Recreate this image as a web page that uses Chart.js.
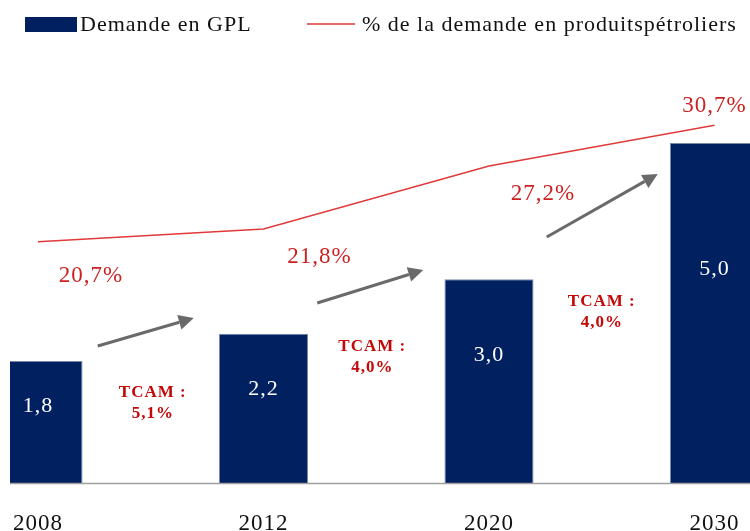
<!DOCTYPE html>
<html>
<head>
<meta charset="utf-8">
<script src="https://cdn.jsdelivr.net/npm/chart.js@4.4.1/dist/chart.umd.min.js"></script>
<style>
  html, body { margin: 0; padding: 0; background: #fff; }
  #wrap { width: 750px; height: 531px; }
</style>
</head>
<body>
<div id="wrap"><canvas id="gplChart" width="750" height="531"></canvas></div>
<script>
// data
const years = ['2008', '2012', '2020', '2030'];
const demandeGPL = [1.8, 2.2, 3.0, 5.0];
const partProduitsPetroliers = [20.7, 21.8, 27.2, 30.7];
const tcamValues = ['5,1%', '4,0%', '4,0%'];

const SERIF = "'Liberation Serif', 'Times New Roman', serif";
const NAVY = '#002060';
const RED_LINE = '#e03a3a';
const RED_TEXT = '#cc2222';
const RED_TCAM = '#c40808';
const ARROW_GREY = '#6a6a6a';

function frNum(v, d) {
    return v.toFixed(d).replace('.', ',');
}

// letter spacing like the original rendering
const spacingPlugin = {
    id: 'spacing',
    beforeUpdate(chart) { chart.ctx.letterSpacing = '1px'; },
    beforeDraw(chart) { chart.ctx.letterSpacing = '1px'; }
};

function drawArrow(ctx, x1, y1, x2, y2) {
    const ang = Math.atan2(y2 - y1, x2 - x1);
    const head = 15, half = 7.5;
    const bx = x2 - head * Math.cos(ang);
    const by = y2 - head * Math.sin(ang);
    ctx.strokeStyle = ARROW_GREY;
    ctx.fillStyle = ARROW_GREY;
    ctx.lineWidth = 3;
    ctx.beginPath();
    ctx.moveTo(x1, y1);
    ctx.lineTo(bx, by);
    ctx.stroke();
    ctx.beginPath();
    ctx.moveTo(x2, y2);
    ctx.lineTo(bx + half * Math.sin(ang), by - half * Math.cos(ang));
    ctx.lineTo(bx - half * Math.sin(ang), by + half * Math.cos(ang));
    ctx.closePath();
    ctx.fill();
}

const annotationsPlugin = {
    id: 'annotations',
    afterDatasetsDraw(chart) {
        const ctx = chart.ctx;
        const yScale = chart.scales.y;
        const bars = chart.getDatasetMeta(0).data;
        const points = chart.getDatasetMeta(1).data;

        ctx.save();
        ctx.textAlign = 'center';
        ctx.textBaseline = 'middle';

        // values inside the bars
        ctx.fillStyle = '#ffffff';
        ctx.font = '22px ' + SERIF;
        bars.forEach((bar, i) => {
            const y = yScale.getPixelForValue(demandeGPL[i] * 0.63);
            ctx.fillText(frNum(demandeGPL[i], 1), bar.x, y);
        });

        // percentage labels near the red line
        const offsets = [[53, 34], [56, 28], [54, 28], [0, -19]];
        ctx.fillStyle = RED_TEXT;
        ctx.font = '23px ' + SERIF;
        points.forEach((pt, i) => {
            ctx.fillText(frNum(partProduitsPetroliers[i], 1) + '%', pt.x + offsets[i][0], pt.y + offsets[i][1]);
        });

        // growth arrows between the bars
        const arrows = [[-53, 346, 43, 318], [-59, 303, 47, 270], [-55, 237, 56, 174]];
        arrows.forEach((a, i) => {
            const mid = (bars[i].x + bars[i + 1].x) / 2;
            drawArrow(ctx, mid + a[0], a[1], mid + a[2], a[3]);
        });

        // TCAM labels
        const tcamPos = [[2, 393], [-4, 347], [0, 302]];
        ctx.fillStyle = RED_TCAM;
        ctx.font = 'bold 17px ' + SERIF;
        tcamValues.forEach((t, i) => {
            const mid = (bars[i].x + bars[i + 1].x) / 2 + tcamPos[i][0];
            ctx.fillText('TCAM :', mid, tcamPos[i][1]);
            ctx.fillText(t, mid, tcamPos[i][1] + 21);
        });
        ctx.restore();
    },
    afterDraw(chart) {
        const ctx = chart.ctx;
        const base = chart.scales.y.getPixelForValue(0);
        ctx.save();
        // baseline
        ctx.strokeStyle = '#a0a0a0';
        ctx.lineWidth = 1.5;
        ctx.beginPath();
        ctx.moveTo(10, base);
        ctx.lineTo(chart.width, base);
        ctx.stroke();

        // legend
        const ds = chart.data.datasets;
        ctx.font = '22px ' + SERIF;
        ctx.textBaseline = 'middle';
        ctx.textAlign = 'left';
        ctx.fillStyle = ds[0].backgroundColor;
        ctx.fillRect(25, 17, 52, 15);
        ctx.fillStyle = '#111111';
        ctx.fillText(ds[0].label, 80, 25);
        ctx.strokeStyle = ds[1].borderColor;
        ctx.lineWidth = 1.5;
        ctx.beginPath();
        ctx.moveTo(307, 24);
        ctx.lineTo(355, 24);
        ctx.stroke();
        ctx.fillText(ds[1].label, 362, 25);
        ctx.restore();
    }
};

new Chart(document.getElementById('gplChart'), {
    type: 'bar',
    data: {
        labels: years,
        datasets: [{
            type: 'bar',
            label: 'Demande en GPL',
            data: demandeGPL,
            backgroundColor: NAVY,
            borderColor: '#7888ac',
            borderWidth: 1,
            categoryPercentage: 0.395,
            barPercentage: 1,
            yAxisID: 'y',
            clip: { left: 28, top: false, right: false, bottom: false },
            order: 2
        }, {
            type: 'line',
            label: '% de la demande en produitspétroliers',
            data: partProduitsPetroliers,
            borderColor: RED_LINE,
            backgroundColor: RED_LINE,
            borderWidth: 1.5,
            pointRadius: 0,
            tension: 0,
            yAxisID: 'y1',
            order: 1
        }]
    },
    options: {
        responsive: false,
        animation: false,
        devicePixelRatio: 1,
        layout: { padding: { left: 38, right: 35.5, top: 75, bottom: -34 } },
        plugins: {
            legend: { display: false },
            tooltip: { enabled: false }
        },
        scales: {
            x: {
                offset: false,
                grid: { display: false, drawTicks: false },
                border: { display: false },
                ticks: {
                    color: '#111111',
                    padding: 27,
                    maxRotation: 0,
                    font: { family: SERIF, size: 23 }
                },
                afterFit(scale) {
                    scale.paddingLeft = 0;
                    scale.paddingRight = 0;
                }
            },
            y: { display: false, min: 0, max: 6 },
            y1: { display: false, position: 'right', min: 0, max: 35 }
        }
    },
    plugins: [spacingPlugin, annotationsPlugin]
});
</script>
</body>
</html>
